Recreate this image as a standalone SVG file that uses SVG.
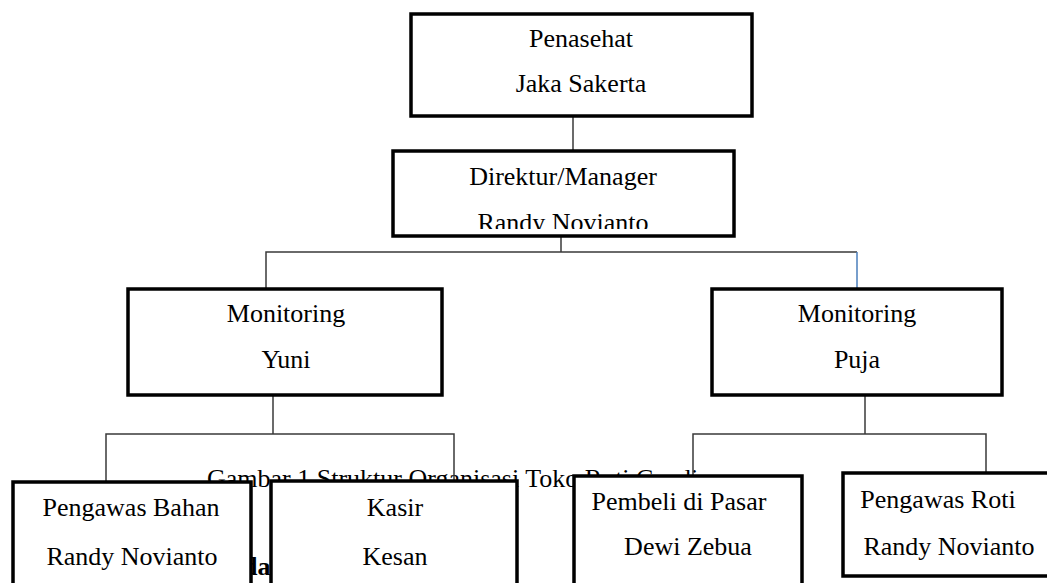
<svg xmlns="http://www.w3.org/2000/svg" width="1047" height="583" viewBox="0 0 1047 583">
<defs>
<style>
.box{fill:#fff;stroke:#000;stroke-width:3.5}
.t{font-family:"Liberation Serif","Times New Roman",serif;font-size:26px;fill:#000;text-anchor:middle}
.cap{font-family:"Liberation Serif","Times New Roman",serif;font-size:26px;fill:#000}
.con{fill:none;stroke:#3a3a3a;stroke-width:1.5}
</style>
<clipPath id="clipDir"><rect x="393" y="151" width="341" height="78"/></clipPath>
</defs>
<rect width="1047" height="583" fill="#fff"/>
<g id="caption">
<text class="cap" x="207" y="487">Gambar 1 Struktur Organisasi Toko Roti Cendi</text>
<text class="cap" x="243" y="575" font-weight="bold">da</text>
</g>
<g id="connectors">
<line class="con" x1="573" y1="117" x2="573" y2="150"/>
<line class="con" x1="561" y1="237" x2="561" y2="252"/>
<polyline class="con" points="266,288 266,252 857,252"/>
<line x1="857" y1="252" x2="857" y2="288" stroke="#4a7ebb" stroke-width="1.5"/>
<line class="con" x1="273" y1="396" x2="273" y2="434"/>
<polyline class="con" points="106,482 106,434 454,434 454,481"/>
<line class="con" x1="865" y1="396" x2="865" y2="434"/>
<polyline class="con" points="693,476 693,434 986,434 986,473"/>
</g>
<g id="penasehat">
<rect class="box" x="411" y="14" width="341" height="102"/>
<text class="t" x="581" y="47">Penasehat</text>
<text class="t" x="581" y="92">Jaka Sakerta</text>
</g>
<g id="direktur">
<rect class="box" x="393" y="151" width="341" height="85"/>
<text class="t" x="563" y="185">Direktur/Manager</text>
<text class="t" x="563" y="231" clip-path="url(#clipDir)">Randy Novianto</text>
</g>
<g id="monitoring-yuni">
<rect class="box" x="128" y="289" width="314" height="106"/>
<text class="t" x="286" y="322">Monitoring</text>
<text class="t" x="286" y="368">Yuni</text>
</g>
<g id="monitoring-puja">
<rect class="box" x="712" y="289" width="290" height="106"/>
<text class="t" x="857" y="322">Monitoring</text>
<text class="t" x="857" y="368">Puja</text>
</g>
<g id="pengawas-bahan">
<rect class="box" x="13" y="482" width="238" height="200"/>
<text class="t" x="131" y="516">Pengawas Bahan</text>
<text class="t" x="132" y="565">Randy Novianto</text>
</g>
<g id="kasir">
<rect class="box" x="271" y="481" width="246" height="200"/>
<text class="t" x="395" y="516">Kasir</text>
<text class="t" x="395" y="565">Kesan</text>
</g>
<g id="pembeli">
<rect class="box" x="574" y="476" width="228" height="200"/>
<text class="t" x="679" y="510">Pembeli di Pasar</text>
<text class="t" x="688" y="555">Dewi Zebua</text>
</g>
<g id="pengawas-roti">
<rect class="box" x="843" y="473" width="220" height="103"/>
<text class="t" x="938" y="508">Pengawas Roti</text>
<text class="t" x="949" y="555">Randy Novianto</text>
</g>
</svg>
